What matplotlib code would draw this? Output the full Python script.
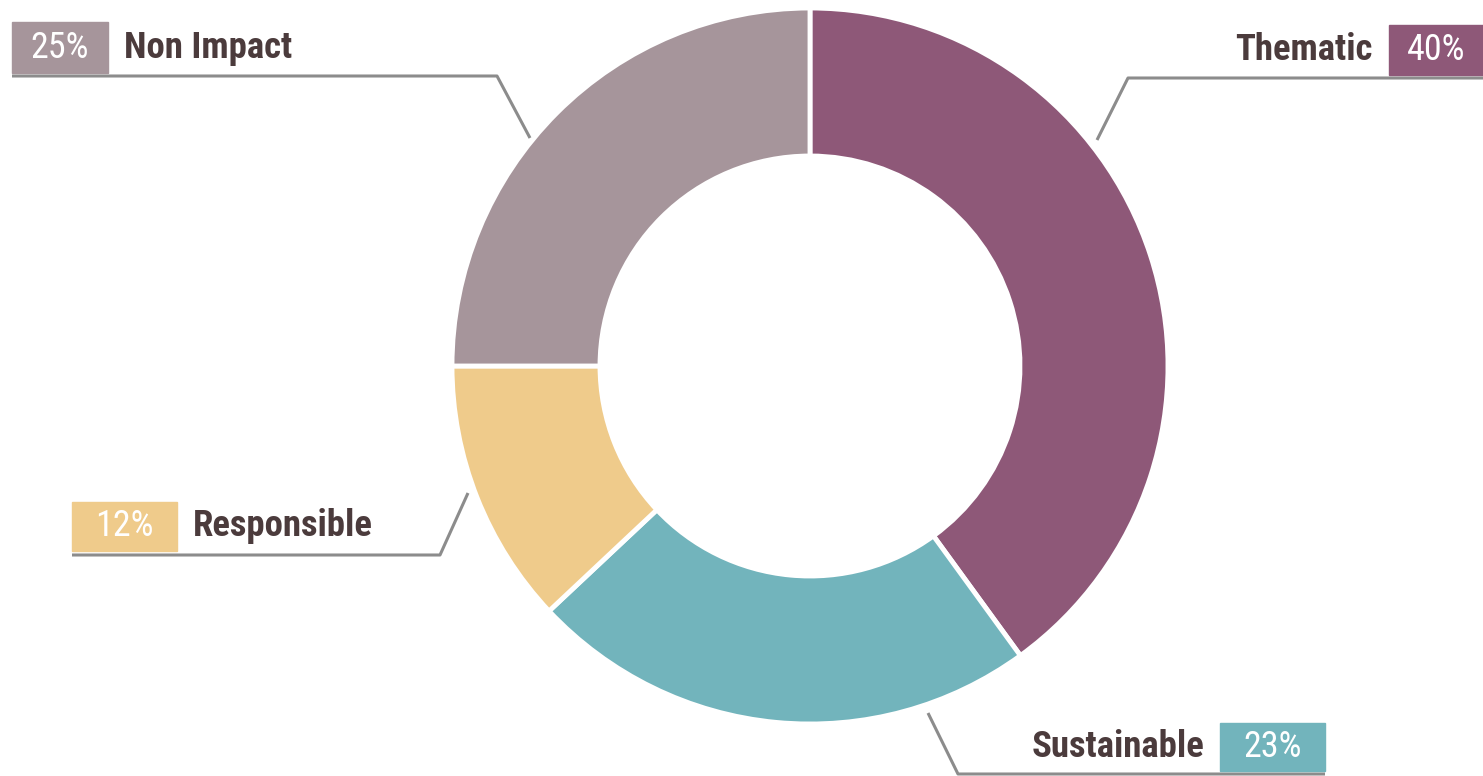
import matplotlib.pyplot as plt
from matplotlib.patches import Rectangle
from matplotlib import font_manager

# ---------- data ----------
labels = ["Thematic", "Sustainable", "Responsible", "Non Impact"]
shares = [40, 23, 12, 25]
colors = ["#8E5878", "#72B4BC", "#EFCB8B", "#A6959B"]

TEXT = "#4B3B3C"
LINE = "#8C8C8C"
W, H = 1483, 776

names = {f.name for f in font_manager.fontManager.ttflist}
narrow = [f for f in ["Roboto Condensed", "Open Sans Condensed",
                      "Liberation Sans Narrow"] if f in names]
FAMILY = narrow[:1] + ["DejaVu Sans"]
NAME_SIZE = 26.5 if narrow else 23
PCT_SIZE = 26 if narrow else 22

fig = plt.figure(figsize=(W / 100, H / 100), dpi=100)
ax = fig.add_axes([0, 0, 1, 1])

def Y(y):  # picture pixels (top-down) -> axes coords (bottom-up)
    return H - y

# donut
ax.pie(shares, colors=colors, startangle=90, counterclock=False,
       radius=358, center=(810, Y(366)),
       wedgeprops=dict(width=148, edgecolor="white", linewidth=3.5))

# label layout: box (x0, x1, ytop, ybot), side of the name, leader polyline
layout = {
    "Thematic":    dict(box=(1389, 1483, 25, 75), side="right",
                        line=[(1483, 78), (1128, 78), (1097, 140)]),
    "Sustainable": dict(box=(1220, 1325, 723, 771), side="right",
                        line=[(1325, 774), (958, 774), (928, 713)]),
    "Responsible": dict(box=(72, 177, 502, 551), side="left",
                        line=[(72, 555), (440, 555), (468, 493)]),
    "Non Impact":  dict(box=(12, 108, 22, 73), side="left",
                        line=[(12, 76), (497, 76), (530, 138)]),
}

for name, val, col in zip(labels, shares, colors):
    lay = layout[name]
    x0, x1, yt, yb = lay["box"]
    xs = [p[0] for p in lay["line"]]
    ys = [Y(p[1]) for p in lay["line"]]
    ax.plot(xs, ys, color=LINE, lw=2.2, solid_capstyle="butt", zorder=1)
    ax.add_patch(Rectangle((x0, Y(yb)), x1 - x0, yb - yt, color=col, zorder=2))
    ym = Y((yt + yb) / 2)
    ax.text((x0 + x1) / 2, ym, f"{val}%", color="white", fontsize=PCT_SIZE,
            family=FAMILY, fontstretch="condensed",
            ha="center", va="center", zorder=3)
    if lay["side"] == "left":
        ax.text(x1 + 16, ym, name, color=TEXT, fontsize=NAME_SIZE,
                fontweight="bold", family=FAMILY, fontstretch="condensed",
                ha="left", va="center", zorder=3)
    else:
        ax.text(x0 - 16, ym, name, color=TEXT, fontsize=NAME_SIZE,
                fontweight="bold", family=FAMILY, fontstretch="condensed",
                ha="right", va="center", zorder=3)

ax.set_xlim(0, W)
ax.set_ylim(0, H)
ax.set_aspect("equal")
ax.axis("off")

fig.savefig("out.png", dpi=100, facecolor="white")
